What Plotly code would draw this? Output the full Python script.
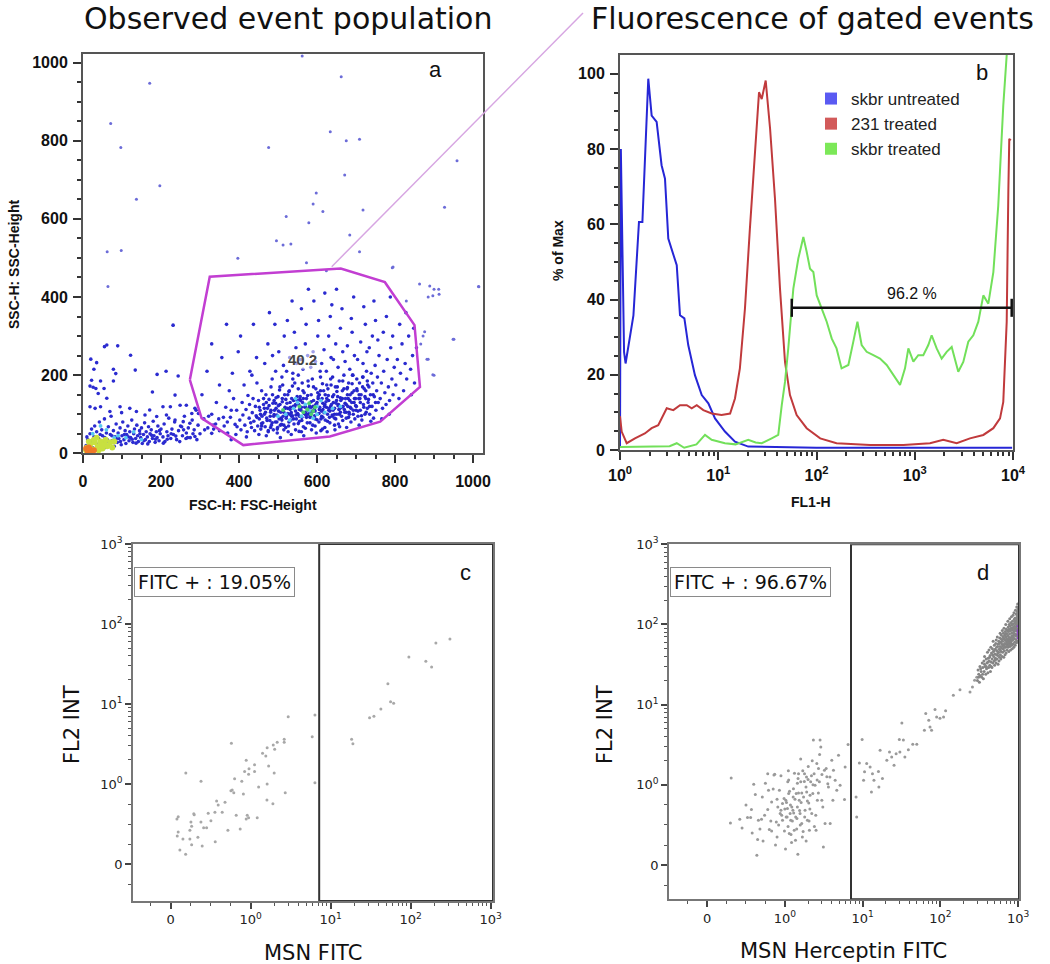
import numpy as np
import plotly.graph_objects as go

W, H = 1050, 964

# ---------------- Panel a : FSC-H vs SSC-H dot plot ----------------
a_main = [(305,150),(318,210),(322,95),(335,62),(342,130),(350,175),(356,245),(330,280),(312,60),(348,88),
 (362,70),(366,118),(371,52),(375,160),(378,92),(383,205),(386,140),(390,74),(394,110),(398,260),(368,330),(392,48),(380,35),
 (402,85),(405,60),(408,130),(410,98),(413,175),(415,72),(418,112),(421,55),(423,148),(426,90),(428,210),(430,78),(404,300),(419,42),(427,125),
 (432,66),(434,104),(436,140),(438,82),(440,58),(442,120),(444,96),(446,180),(448,70),(450,135),(452,88),(454,110),(456,62),(458,160),(445,245),(437,330),(451,48),(459,95),(433,200),
 (461,78),(463,125),(465,100),(467,68),(469,150),(471,90),(473,115),(475,55),(477,138),(479,84),(481,105),(483,72),(485,190),(487,128),(489,95),(466,230),(474,280),(482,170),(488,60),(470,45),(478,360),(486,250),
 (491,110),(493,80),(495,142),(497,98),(499,66),(501,122),(503,88),(505,170),(507,105),(509,74),(511,132),(513,95),(515,60),(517,150),(519,115),(494,210),(502,260),(510,195),(516,300),(498,52),(506,40),(514,225),(492,330),
 (521,90),(523,128),(525,102),(527,70),(529,160),(531,112),(533,85),(535,140),(537,96),(539,120),(541,75),(543,180),(545,108),(547,88),(549,135),(522,210),(530,245),(538,205),(546,270),(526,55),(534,48),(542,310),(548,230),(524,340),(536,390),
 (551,100),(553,125),(555,82),(557,145),(559,110),(561,92),(563,130),(565,68),(567,155),(569,118),(571,98),(573,140),(575,78),(577,185),(579,108),(552,200),(558,240),(564,215),(570,280),(576,250),(554,56),(566,45),(572,330),(560,370),(578,420),
 (581,120),(583,95),(585,150),(587,105),(589,72),(591,135),(593,112),(595,88),(597,165),(599,125),(601,100),(603,145),(605,80),(607,118),(609,195),(584,220),(590,260),(596,235),(602,300),(608,210),(586,60),(598,52),(604,340),(592,390),
 (611,108),(613,140),(615,92),(617,160),(619,120),(621,85),(623,132),(625,175),(627,100),(629,148),(631,115),(633,78),(635,190),(637,125),(639,95),(612,230),(618,265),(624,210),(630,300),(636,245),(614,62),(626,55),(634,350),(620,410),(638,380),
 (641,110),(643,150),(645,90),(647,170),(649,128),(651,100),(653,145),(655,75),(657,185),(659,115),(661,135),(663,95),(665,160),(667,120),(669,200),(642,240),(648,280),(654,220),(660,320),(666,260),(646,60),(658,68),(664,370),(650,420),
 (671,105),(673,140),(675,90),(677,165),(679,120),(681,180),(683,100),(685,150),(687,80),(689,130),(691,200),(693,110),(695,160),(697,88),(699,140),(672,235),(678,275),(684,215),(690,310),(696,250),(676,66),(688,345),(694,400),
 (701,120),(703,160),(705,95),(707,140),(709,180),(711,110),(713,150),(715,85),(717,195),(719,125),(721,165),(723,100),(725,140),(727,210),(729,115),(704,240),(712,285),(718,230),(724,330),(708,72),(720,375),(728,260),
 (731,130),(733,170),(735,100),(737,150),(739,205),(741,120),(743,180),(745,90),(747,145),(749,225),(751,110),(753,160),(755,195),(757,130),(759,250),(734,270),(742,300),(750,340),(738,82),(756,290),(746,390),
 (762,140),(765,180),(768,115),(771,210),(774,155),(777,125),(780,240),(783,170),(786,135),(789,270),(792,190),(795,150),(798,220),(770,310),(778,350),(785,100),(794,300),(766,88),(788,400),
 (802,175),(806,240),(810,140),(814,205),(818,280),(822,160),(826,230),(830,190),(835,300),(840,215),(845,250),(850,180),(855,270),(812,330),(828,360),(842,150),(848,320)]

a_core = [(446,92),(452,118),(458,76),(463,140),(468,105),(472,84),(477,122),(481,66),(486,150),(490,99),
 (494,128),(497,80),(501,108),(504,162),(508,90),(511,140),(515,72),(518,118),(522,96),(525,150),
 (528,80),(531,130),(534,104),(537,172),(540,88),(543,120),(546,98),(549,145),(552,76),(555,112),
 (558,135),(561,84),(564,160),(567,102),(570,120),(573,92),(576,148),(579,115),(582,78),(585,132),
 (588,108),(591,170),(594,96),(597,125),(600,86),(603,140),(606,112),(609,160),(612,95),(615,128),
 (618,104),(621,150),(624,118),(627,82),(630,135),(633,108),(636,175),(639,98),(642,130),(645,115),
 (648,88),(651,158),(654,122),(657,100),(660,142),(663,118),(666,84),(669,165),(672,128),(675,105),
 (678,150),(681,92),(684,135),(687,115),(690,178),(693,100),(696,140),(699,122),(702,190),(705,108),
 (708,150),(711,130),(714,96),(717,170),(720,118),(723,145),(726,105),(729,185),(732,138),(735,120),
 (475,58),(498,62),(520,66),(545,60),(570,64),(595,70),(620,66),(645,72),(560,55),(610,58),
 (455,100),(480,95),(505,125),(530,100),(555,95),(580,100),(605,102),(630,110),(655,125),(680,140),
 (465,115),(490,135),(515,105),(540,135),(565,140),(590,120),(615,112),(640,145),(665,140),(690,155),
 (470,130),(495,115),(520,138),(545,125),(570,105),(595,108),(620,125),(645,100),(670,112),(695,130),
 (485,78),(510,85),(535,95),(560,118),(585,118),(610,88),(635,120),(660,105),(685,118),(710,140),
 (500,145),(525,115),(550,102),(575,100),(600,130),(625,140),(650,135),(675,125),(700,110),(725,160),
 (512,175),(538,190),(562,180),(588,190),(614,178),(640,195),(666,185),(692,200),(718,195),(744,150),
 (528,158),(552,165),(578,172),(602,155),(628,165),(652,170),(678,168),(702,165),(730,175),(750,130),
 (458,70),(482,110),(506,72),(532,118),(556,138),(582,92),(606,150),(632,92),(656,112),(682,105)]

a_low = [(8,20),(12,35),(15,8),(18,50),(20,25),(22,62),(25,14),(28,42),(30,70),(32,28),(35,55),(38,12),(40,38),(42,80),(45,22),
 (48,60),(50,45),(52,30),(55,88),(58,15),(60,52),(62,35),(65,68),(68,25),(70,48),(72,95),(75,32),(78,58),(80,18),(82,42),(85,75),
 (88,28),(90,52),(92,38),(95,65),(98,22),(100,45),(102,80),(105,35),(108,58),(110,25),(112,48),(115,70),(118,32),(120,55),(122,40),
 (125,85),(128,28),(130,50),(132,62),(135,38),(138,72),(140,45),(142,30),(145,58),(148,40),(150,65),(152,25),(155,48),(158,78),
 (160,35),(162,55),(165,42),(168,68),(170,30),(172,50),(175,60),(178,38),(180,82),(182,45),(185,28),(188,55),(190,40),(192,70),
 (195,32),(198,50),(200,62),(205,42),(208,75),(210,30),(215,55),(218,45),(220,90),(225,38),(228,62),(232,48),(235,80),(240,35),
 (245,58),(250,70),(255,45),(260,95),(265,52),(270,65),(275,40),(280,85),(285,60),(290,110),(295,72),(300,50),(310,88),(320,65),
 (330,100),(340,75),(350,58),(360,92),(370,80),(380,110),(395,68),
 (10,42),(24,30),(36,22),(44,48),(56,40),(66,30),(74,45),(86,38),(96,30),(106,48),(116,42),(126,36),(136,26),(146,50),(156,32),
 (166,24),(176,46),(186,36),(196,58),(206,26),(216,36),(226,50),(238,44),(248,30),(258,60),(268,40),(282,50),(292,35),
 (61,277),(55,273),(89,275),(122,251),(20,241),(35,232),(28,215),(78,215),(84,204),(134,213),(190,202),(213,210),(244,198),(231,328),
 (22,187),(45,185),(78,185),(18,172),(26,169),(33,166),(54,166),(61,141),(39,153),(178,157),(236,149),(18,119),(31,115),(45,119),
 (95,119),(69,107),(99,104),(120,115),(137,107),(159,98),(171,111),(205,119),(224,119),(249,123),(265,123),(287,115),(279,102),
 (296,102),(189,94),(214,98),(236,85),(257,81),(253,68),(274,77),(264,38),(287,43),(330,51),(334,72)]

a_outliers = [(171,947),(71,844),(97,783),(662,964),(562,1017),(634,823),(675,800),(709,804),(476,783),(671,712),(959,749),
 (197,685),(137,650),(598,666),(590,638),(62,516),(98,519),(579,590),(615,619),(718,623),(927,630),(521,606),(496,544),
 (513,533),(533,536),(684,559),(709,516),(397,499),(793,475),(889,428),(897,403),(912,420),(1014,427),(885,400),(863,433),
 (949,292),(882,241),(897,201),(64,427),(231,327),(876,311),(866,280),(829,390),(573,488),(624,467),(795,477),(900,420),
 (913,407),(951,292),(900,200),(885,241),(872,300),(1015,426)]

a_cyan = [(520,100),(540,115),(560,95),(580,110),(600,120),(620,105),(550,130),(590,90),(570,125),(610,135),(530,85),(640,115),
 (500,95),(660,120),(545,140),(600,100),(60,60),(90,45),(110,40),(130,55),(45,70),(150,35),(25,50),(80,40)]
a_green = [(575,112),(585,100),(595,118),(565,105),(555,120),(580,128),(513,111),(590,108)]
a_hot_yellow = [(10,15),(18,22),(25,10),(30,28),(38,18),(45,30),(50,12),(55,24),(62,18),(70,28),(40,8),(28,35),(15,30),(8,8),
 (20,5),(35,40),(58,35),(75,15),(80,30),(48,20)]
a_hot_red = [(12,5),(18,10),(8,12),(22,3),(15,15),(28,8)]

gate_a_x = [274, 325, 661, 774, 850, 864, 762, 633, 411, 304, 274]
gate_a_y = [188, 452, 473, 438, 328, 170, 81, 43, 21, 90, 188]
gate_a_label = "40.2"

# ---------------- Panel b : FL1-H histograms (% of max) ----------------
blue_x = [1.0, 1.02, 1.10, 1.14, 1.37, 1.56, 1.69, 1.94, 2.10, 2.36, 2.65, 2.87, 3.10, 3.49, 3.78, 4.08, 4.52, 4.95,
          5.79, 6.79, 7.93, 9.27, 11.7, 14.8, 20.2, 100, 1000, 9800]
blue_y = [0.5, 80, 26, 23, 35.8, 60.6, 60.6, 98.7, 88.9, 87.2, 75.7, 72.1, 56.2, 51.8, 49.1, 35.8, 35.0, 27.9,
          19.9, 14.6, 12.4, 8.4, 4.9, 2.2, 0.9, 0.6, 0.6, 0.6]

red_x = [1.0, 1.04, 1.17, 1.42, 1.79, 2.10, 2.45, 2.99, 3.49, 4.08, 4.78, 5.37, 6.04, 7.05, 8.57, 10.8, 13.2, 14.8,
         16.6, 18.7, 21.0, 23.7, 26.0, 27.7, 30.4, 33.7, 37.8, 42.5, 47.8, 53.7, 62.8, 79.4, 109, 160, 351, 766,
         1429, 1950, 2673, 3648, 4989, 6310, 7379, 7962, 8630, 8974, 9162, 9500]
red_y = [9.0, 4.9, 1.8, 3.1, 4.4, 5.8, 6.6, 11.1, 10.6, 11.9, 11.9, 11.1, 11.9, 10.6, 9.7, 9.3, 9.7, 13.7,
         21.7, 37.6, 58.9, 79.2, 95.1, 93.3, 98.2, 85.4, 66.8, 42.9, 23.4, 14.6, 9.3, 5.8, 3.1, 1.8, 1.3, 1.3,
         1.8, 2.7, 1.8, 3.1, 4.0, 5.8, 8.4, 12.8, 34.1, 69.5, 82.7, 82.3]

green_x = [1.0, 1.5, 2.0, 3.2, 3.78, 4.5, 6.0, 7.33, 8.57, 11.7, 15.0, 20.2, 24.0, 27.7, 35.0, 40.8, 44.3, 47.8, 51.6,
           58.1, 65.3, 73.5, 79.4, 85.9, 92.9, 100.5, 113, 127, 143, 160, 180, 211, 237, 261, 288, 324, 379, 443,
           518, 605, 708, 796, 861, 968, 1086, 1222, 1374, 1486, 1671, 1879, 2113, 2377, 2773, 3119, 3508, 3945,
           4436, 4989, 5610, 6310, 7079, 7962, 8492, 9000]
green_y = [0.8, 0.8, 1.0, 1.0, 1.8, 0.6, 1.5, 4.0, 2.7, 1.8, 1.5, 2.7, 2.0, 1.8, 3.1, 4.0, 11.9, 18.1, 27.0,
           42.9, 50.9, 56.6, 52.7, 48.2, 47.3, 41.1, 37.6, 34.1, 29.6, 27.0, 21.7, 22.6, 28.8, 34.1, 27.9, 26.1, 25.2, 24.3,
           22.6, 19.9, 17.3, 21.7, 27.0, 23.5, 25.2, 25.2, 27.9, 30.5, 27.0, 24.3, 26.1, 27.4, 20.8, 23.4, 28.8, 30.5,
           34.1, 41.1, 38.9, 47.3, 65.0, 91.6, 105, 112]

series_names = ["skbr untreated", "231 treated", "skbr treated"]
line_colors = ["#2626d6", "#c03a3c", "#72e05a"]
legend_colors = ["#5a5af2", "#d25a5a", "#7ce858"]

marker_lo, marker_hi, marker_level = 56, 9700, 37.8
marker_label = "96.2 %"

# ---------------- Panels c / d : FL2 INT vs FITC (biexponential) ----------------
c_x = [2.95, 6.37, 0.76, 2.63, 2.63, 2.15, 1.92, 1.61, 2.0, 5.89, 1.41, 1.55, 0.945, 1.12, 1.68, 0.98, 0.925, 1.12,
       0.975, 1.97, 0.19, 0.38, 0.80, 0.89, 1.61, 1.26, 6.37, 0.754, 0.77, 0.79, 0.91, 2.71, 1.60, 1.90, 0.575, 0.595,
       0.68, 0.29, 0.295, 0.47, 0.554, 0.645, 0.82, 0.958, 0.975, 0.945, 1.21, 0.095, 0.079, 0.254, 0.379, 0.504, 0.263,
       0.413, 0.45, 0.87, 0.716, 0.241, 0.095, 0.083, 0.154, 0.241, 0.341, 0.558, 0.263, 0.395, 0.116, 0.188,
       18.3, 19.0, 30.7, 34.8, 42.5, 56.2, 61.4, 52.0, 95.2, 155, 183, 207, 310]
c_y = [6.94, 7.29, 3.23, 3.62, 3.32, 3.32, 3.07, 2.84, 2.71, 3.90, 2.42, 2.24, 1.98, 1.74, 1.68, 1.55, 1.43, 1.43,
       1.32, 1.37, 1.37, 1.08, 1.16, 1.08, 1.0, 0.9625, 1.04, 0.916, 0.925, 0.891, 0.875, 0.891, 0.80, 0.754, 0.7875,
       0.7375, 0.771, 0.629, 0.616, 0.634, 0.646, 0.646, 0.609, 0.609, 0.579, 0.5625, 0.579, 0.591, 0.5625, 0.525, 0.525,
       0.541, 0.471, 0.454, 0.454, 0.4375, 0.421, 0.421, 0.40, 0.35, 0.3125, 0.3125, 0.333, 0.279, 0.241, 0.225, 0.175,
       0.121, 3.62, 3.19, 6.74, 7.02, 8.66, 10.7, 10.2, 17.9, 38.7, 34.2, 29.0, 57.9, 64.9]

d_left = [(0.31,1.22),(0.30,0.525),(0.45,0.463),(0.42,0.571),(0.52,0.592),(0.56,0.592),(0.64,0.122),(0.65,0.318),
 (0.60,1.02),(0.57,0.692),(0.66,0.559),(0.70,0.571),(0.71,0.849),(0.78,1.38),(0.86,1.33),(0.79,0.933),(0.78,0.692),
 (0.83,0.787),(0.80,0.442),(0.83,0.425),(0.87,1.36),(0.89,0.538),(0.91,0.725),(0.90,0.351),(0.93,0.933),(0.94,0.642),
 (0.95,0.683),(0.97,0.767),(0.97,0.559),(0.99,0.829),(0.995,0.425),(1.03,0.808),(1.04,0.600),(1.08,0.704),(1.09,1.09),
 (1.11,1.50),(1.12,0.891),(1.14,0.393),(1.17,0.642),(1.19,0.559),(1.23,0.725),(1.27,0.683),(1.29,0.953),(1.32,0.434),
 (1.37,0.309),(1.40,0.891),(1.43,0.580),(1.45,0.725),(1.47,0.135),(1.50,1.38),(1.53,0.808),(1.57,0.642),(1.60,1.09),
 (1.65,0.517),(1.68,0.351),(1.74,0.849),(1.79,1.38),(1.82,0.683),(1.87,0.974),(1.91,0.912),(1.95,0.559),(1.99,1.17),
 (2.03,0.775),(2.07,0.434),(2.11,0.871),(2.15,1.09),(2.22,0.642),(2.29,0.891),(2.33,3.62),(2.38,1.38),(2.45,0.995),
 (2.52,0.434),(2.58,1.85),(2.62,0.808),(2.71,1.60),(2.78,1.09),(2.84,3.62),(2.90,2.97),(2.99,0.808),(3.08,0.725),
 (3.13,0.226),(3.23,1.52),(3.29,0.517),(3.47,1.26),(3.57,1.03),(3.64,0.974),(3.83,0.517),(4.02,2.03),(4.15,0.808),
 (4.22,1.52),(4.44,1.14),(4.66,0.933),(4.90,2.34),(5.14,0.995),(5.85,0.816),(5.96,1.67),(6.51,3.19),
 (0.5,0.75),(0.62,0.88),(0.74,0.62),(0.85,0.95),(0.92,0.5),(1.05,0.78),(1.15,0.92),(1.25,0.55),(1.35,0.82),(1.45,1.05),
 (1.55,0.68),(1.65,0.9),(1.8,0.6),(1.95,0.8),(2.1,0.7),(2.3,1.0),(2.5,0.62),(2.7,0.9),(0.68,0.45),(0.82,0.55),
 (0.96,0.62),(1.1,0.48),(1.2,0.38),(1.3,0.65),(1.42,0.45),(1.58,0.5),(1.72,0.42),(1.88,0.3),(2.05,0.55),(2.4,0.48),
 (0.9,0.82),(1.0,0.7),(1.07,0.6),(1.18,0.75),(1.28,0.85),(1.38,0.6),(1.5,0.9),(1.62,0.78),(1.78,1.1),(1.9,1.25),
 (2.2,1.3),(2.6,1.15),(3.0,1.35),(3.4,1.6),(3.8,1.25),(0.58,0.4),(0.72,0.3),(0.88,0.25),(1.02,0.2),(1.22,0.28),
 (1.48,1.2),(1.7,1.5),(2.0,1.7),(2.25,2.0),(2.8,2.4),(1.12,1.15),(0.95,1.3),(0.75,1.05),(1.33,1.4),(1.6,2.1)]

d_mid = [(8.25,0.849),(8.4,0.600),(9.1,1.88),(9.86,3.67),(10.3,1.14),(10.6,1.46),(11.3,1.85),(12.5,1.67),(13.0,0.912),
 (13.4,1.38),(14.0,1.14),(16.0,1.47),(16.2,0.974),(16.8,2.70),(18.0,1.20),(20.5,2.03),(22.2,2.57),(23.7,2.23),(25.4,1.76),
 (27.0,2.45),(29.7,3.67),(30.2,2.57),(32.0,5.91),(33.5,3.62),(35.0,2.23),(38.8,2.75),(44.2,3.21),(49.8,3.21),(62.4,4.80),
 (65.0,7.74),(71,6.39),(73.7,5.27),(77.2,4.80),(85.5,8.69),(89.7,7.03),(99,6.77),(110,7.03),(117,8.4),(147,13.1),
 (179,15.4),(241,14.4),(259,16.6),(276,20.1),(294,22.0)]

d_cloud = [(300,20),(306,27),(312,24),(318,19),(323,30),(327,23),(335,26),(341,22),(346,33),(352,29),(358,21),(364,35),
 (366,26),(371,40),(376,30),(384,24),(389,37),(393,28),(398,33),(404,45),(409,25),(413,38),(418,29),(423,48),(426,35),
 (432,31),(437,41),(441,26),(446,52),(449,34),(455,44),(461,29),(464,37),(468,50),(473,33),(478,62),(483,46),(486,40),
 (491,35),(495,55),(499,31),(503,43),(508,49),(512,38),(516,58),(521,33),(524,64),(529,42),(533,47),(537,37),(541,70),
 (545,53),(548,41),(553,32),(556,57),(561,45),(565,62),(568,35),(572,49),(577,39),(581,68),(584,53),(588,78),(592,42),
 (597,60),(600,37),(604,46),(607,74),(611,51),(616,57),(619,65),(623,40),(627,84),(631,62),(634,45),(639,71),(642,50),
 (646,78),(651,55),(655,39),(659,90),(662,66),(667,47),(670,58),(675,74),(679,42),(683,82),(686,63),(690,52),(694,100),
 (698,70),(702,44),(706,88),(710,56),(714,77),(718,61),(722,48),(727,84),(731,65),(735,73),(739,110),(743,52),(747,93),
 (751,63),(756,70),(760,46),(764,87),(768,100),(772,57),(776,76),(781,118),(785,53),(789,66),(793,96),(797,83),(801,48),
 (805,105),(809,62),(813,90),(817,69),(822,125),(826,55),(830,78),(834,99),(838,86),(842,50),(846,110),(850,64),(854,71),
 (858,92),(862,130),(866,57),(870,80),(874,102),(878,88),(882,52),(886,140),(890,67),(894,115),(898,74),(902,95),(906,60),
 (910,120),(914,83),(918,55),(922,104),(926,150),(930,72),(934,90),(938,65),(942,135),(946,84),(950,110),(954,59),(958,95),
 (962,165),(966,75),(970,118),(974,62),(978,145),(982,88),(986,106),(990,70),(994,125),(997,160),(995,82),(999,100),
 (992,150),(988,180),(996,140),
 (310,22),(330,28),(350,24),(370,32),(390,30),(410,34),(430,39),(450,30),(470,42),(490,47),(510,36),(530,52),(550,44),
 (570,58),(590,48),(610,66),(630,54),(650,70),(670,52),(690,76),(710,66),(730,58),(750,82),(770,68),(790,60),(810,86),
 (830,72),(850,100),(870,66),(890,92),(910,76),(930,110),(950,88),(970,100),(990,115),(980,130),(960,122),(940,102),
 (920,92),(900,84),(880,76),(860,70),(840,64),(820,58),(800,55),(780,62),(760,56),(740,60),(720,54),(700,58)]
d_edge = [(1000,75),(1000,85),(1000,95),(1000,68),(998,80)]

gate_c, gate_d = 7.2, 7.1
label_c, label_d = "FITC + : 19.05%", "FITC + : 96.67%"

bi_ticks = [0, 1, 10, 100, 1000]
bi_ticktext = ["0", "10<sup>0</sup>", "10<sup>1</sup>", "10<sup>2</sup>", "10<sup>3</sup>"]


def biex(v):
    v = np.asarray(v, dtype=float)
    return np.where(v <= 1.0, v, 1.0 + np.log10(np.clip(v, 1.0, None)))


def unzip(pts):
    return [p[0] for p in pts], [p[1] for p in pts]


def px(x):
    return x / W


def py(y):
    return 1 - y / H


fig = go.Figure()


def add_dots(pts, color, size=3, ax="x", ay="y", opacity=1.0):
    xs, ys = unzip(pts)
    fig.add_trace(go.Scatter(x=xs, y=ys, mode="markers", xaxis=ax, yaxis=ay, showlegend=False,
                             hoverinfo="skip", opacity=opacity,
                             marker=dict(size=size, color=color, line=dict(width=0))))


add_dots(a_outliers, "#6c6cd8", 3)
add_dots(a_low, "#2b2bd0", 3.6)
add_dots(a_main, "#2b2bd0", 3.6)
add_dots(a_core, "#2424c8", 3.6)
add_dots(a_cyan, "#58c8f0", 3.8)
add_dots(a_green, "#4cd070", 4)
add_dots(a_hot_yellow, "#c8e040", 6)
add_dots(a_hot_red, "#f07828", 6)

fig.add_trace(go.Scatter(x=gate_a_x, y=gate_a_y, mode="lines", xaxis="x", yaxis="y", showlegend=False,
                         hoverinfo="skip", line=dict(color="#c23ed2", width=2.5)))

for xs, ys, c in [(blue_x, blue_y, line_colors[0]), (red_x, red_y, line_colors[1]), (green_x, green_y, line_colors[2])]:
    fig.add_trace(go.Scatter(x=xs, y=ys, mode="lines", xaxis="x2", yaxis="y2", showlegend=False,
                             hoverinfo="skip", line=dict(color=c, width=2)))
for name, c in zip(series_names, legend_colors):
    fig.add_trace(go.Scatter(x=[None], y=[None], mode="markers", xaxis="x2", yaxis="y2", name=name,
                             marker=dict(symbol="square", size=12, color=c)))
cap = 2.4
fig.add_trace(go.Scatter(
    x=[marker_lo, marker_hi, None, marker_lo, marker_lo, None, marker_hi, marker_hi],
    y=[marker_level, marker_level, None, marker_level - cap, marker_level + cap, None,
       marker_level - cap, marker_level + cap],
    mode="lines", xaxis="x2", yaxis="y2", showlegend=False, hoverinfo="skip",
    line=dict(color="#111", width=2.5)))

fig.add_trace(go.Scatter(x=biex(c_x), y=biex(c_y), mode="markers", xaxis="x3", yaxis="y3", showlegend=False,
                         hoverinfo="skip", marker=dict(size=3, color="#a8a8a8")))
for pts, col in [(d_left, "#9a9a9a"), (d_mid, "#9a9a9a"), (d_cloud, "#858585"), (d_edge, "#9050c0")]:
    xs, ys = unzip(pts)
    fig.add_trace(go.Scatter(x=biex(xs), y=biex(ys), mode="markers", xaxis="x4", yaxis="y4", showlegend=False,
                             hoverinfo="skip", marker=dict(size=3, color=col)))

bold = dict(family="Liberation Sans, Arial", size=16, color="#111", weight="bold")
frame = dict(showline=True, mirror=True, linecolor="#555", linewidth=2, showgrid=False, zeroline=False,
             ticks="outside", tickcolor="#333", tickwidth=2, ticklen=8)

xr_a, yr_a = [0, 1025.6], [0, 1022]
xr_c, yr_c = [-0.47, 4.03], [-0.4625, 4.0]
xr_d, yr_d = [-0.49, 4.012], [-0.427, 4.0]

log_minor = [k * 10 ** d for d in range(4) for k in range(2, 10)]
bi_minor = [0.25, 0.5, 0.75, -0.25] + [1 + np.log10(k) + d for d in range(3) for k in range(2, 10)]
small = dict(family="DejaVu Sans", size=13, color="#222")
frame_cd = dict(showline=True, mirror=True, linecolor="#777", linewidth=1.5, showgrid=False, zeroline=False,
                ticks="outside", tickcolor="#444", tickwidth=1.5, ticklen=6,
                tickvals=list(biex(bi_ticks)), ticktext=bi_ticktext, tickfont=small,
                minor=dict(tickvals=bi_minor, ticks="outside", ticklen=3, tickcolor="#555", tickwidth=1))

fig.update_layout(
    width=W, height=H, margin=dict(l=0, r=0, t=0, b=0, autoexpand=False),
    paper_bgcolor="white", plot_bgcolor="white",
    xaxis=dict(domain=[px(83), px(483)], range=xr_a, anchor="y", tickvals=list(range(0, 1001, 200)),
               tickfont=bold, ticklabelstandoff=4, automargin=False,
               minor=dict(tickvals=list(range(50, 1001, 50)), ticks="outside", ticklen=4, tickcolor="#333"), **frame),
    yaxis=dict(domain=[py(453.3), py(54)], range=yr_a, anchor="x", tickvals=list(range(0, 1001, 200)),
               tickfont=bold, ticklabelstandoff=2, automargin=False,
               minor=dict(tickvals=list(range(50, 1001, 50)), ticks="outside", ticklen=4, tickcolor="#333"), **frame),
    xaxis2=dict(domain=[px(620), px(1013)], type="log", range=[0, 4], anchor="y2",
                tickvals=[1, 10, 100, 1000, 10000],
                ticktext=["10<sup>0</sup>", "10<sup>1</sup>", "10<sup>2</sup>", "10<sup>3</sup>", "10<sup>4</sup>"],
                tickfont=bold, ticklabelstandoff=2, automargin=False,
                minor=dict(tickvals=log_minor, ticks="outside", ticklen=4, tickcolor="#333"), **frame),
    yaxis2=dict(domain=[py(450), py(55)], range=[0, 105], anchor="x2", tickvals=list(range(0, 101, 20)),
                tickfont=bold, ticklabelstandoff=2, automargin=False,
                minor=dict(tickvals=list(range(5, 105, 5)), ticks="outside", ticklen=4, tickcolor="#333"), **frame),
    xaxis3=dict(domain=[px(133), px(493)], range=xr_c, anchor="y3", automargin=False, **frame_cd),
    yaxis3=dict(domain=[py(901), py(544)], range=yr_c, anchor="x3", automargin=False, **frame_cd),
    xaxis4=dict(domain=[px(669), px(1019)], range=xr_d, anchor="y4", automargin=False, **frame_cd),
    yaxis4=dict(domain=[py(899.3), py(544.3)], range=yr_d, anchor="x4", automargin=False, **frame_cd),
    legend=dict(x=px(811), y=py(81), xanchor="left", yanchor="top", bgcolor="rgba(0,0,0,0)",
                font=dict(family="Liberation Sans, Arial", size=17, color="#222"),
                itemwidth=30, tracegroupgap=0),
)

fig.add_shape(type="rect", xref="x3", yref="y3", x0=float(biex(gate_c)), x1=xr_c[1], y0=yr_c[0], y1=yr_c[1],
              line=dict(color="#333", width=2))
fig.add_shape(type="rect", xref="x4", yref="y4", x0=float(biex(gate_d)), x1=xr_d[1], y0=yr_d[0], y1=yr_d[1],
              line=dict(color="#333", width=2))

fig.add_shape(type="line", xref="paper", yref="paper", x0=px(331.7), y0=py(266.7), x1=px(583), y1=py(13),
              line=dict(color="#d7a6e2", width=1.5))

ann = []


def note(text, x, y, font, angle=0, **kw):
    d = dict(text=text, x=px(x), y=py(y), xref="paper", yref="paper", showarrow=False, font=font,
             textangle=angle, xanchor="center", yanchor="middle")
    d.update(kw)
    ann.append(d)


title_font = dict(family="DejaVu Sans", size=30, color="#111")
note("Observed event population", 288, 18, title_font)
note("Fluorescence of gated events", 812, 18, title_font)
letter = dict(family="Liberation Sans, Arial", size=22, color="#111")
for t, x, y in [("a", 435, 70), ("b", 982, 73), ("c", 465, 572), ("d", 983, 572)]:
    note(t, x, y, letter)
axis_title = dict(family="Liberation Sans, Arial", size=14, color="#111", weight="bold")
note("SSC-H: SSC-Height", 14, 265, axis_title, -90)
note("FSC-H: FSC-Height", 253, 505, axis_title)
note("% of Max", 558, 251, axis_title, -90)
note("FL1-H", 811, 502, axis_title)
big = dict(family="DejaVu Sans", size=21, color="#111")
note("FL2 INT", 72, 725, big, -90)
note("MSN FITC", 313, 953, big)
note("FL2 INT", 605, 725, big, -90)
note("MSN Herceptin FITC", 843, 951, big)
box_font = dict(family="DejaVu Sans", size=19, color="#111")
note(label_c, 134, 567, box_font, xanchor="left", yanchor="top", bordercolor="#8a8a8a", borderwidth=1,
     borderpad=3, bgcolor="white")
note(label_d, 670, 567, box_font, xanchor="left", yanchor="top", bordercolor="#8a8a8a", borderwidth=1,
     borderpad=3, bgcolor="white")
ann.append(dict(text=gate_a_label, x=564, y=239, xref="x", yref="y", showarrow=False,
                bgcolor="rgba(255,255,255,0.55)",
                font=dict(family="Liberation Sans, Arial", size=15, color="#444", weight="bold")))
ann.append(dict(text=marker_label, x=float(np.log10(938)), y=41.7, xref="x2", yref="y2", showarrow=False,
                font=dict(family="Liberation Sans, Arial", size=16, color="#111")))
fig.update_layout(annotations=ann)

fig.write_html("out.html", config={"displayModeBar": False},
               post_script="document.body.style.margin='0px'; document.body.style.overflow='hidden';")
